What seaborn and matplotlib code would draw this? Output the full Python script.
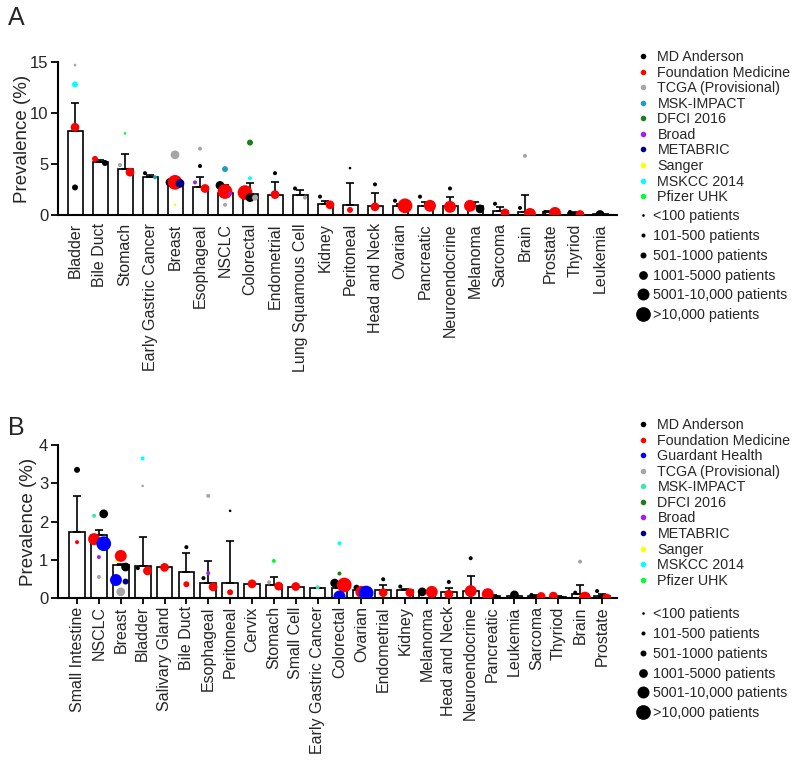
import numpy as np
import pandas as pd
import matplotlib
matplotlib.use('Agg')
import matplotlib.pyplot as plt
from matplotlib.lines import Line2D
import seaborn as sns

# --- data: panel A ---
A_cats = ['Bladder', 'Bile Duct', 'Stomach', 'Early Gastric Cancer', 'Breast', 'Esophageal', 'NSCLC',
          'Colorectal', 'Endometrial', 'Lung Squamous Cell', 'Kidney', 'Peritoneal', 'Head and Neck',
          'Ovarian', 'Pancreatic', 'Neuroendocrine', 'Melanoma', 'Sarcoma', 'Brain', 'Prostate',
          'Thyriod', 'Leukemia']
A_mean = [8.2, 5.2, 4.5, 3.7, 3.2, 2.7, 2.2, 2.1, 2.0, 2.0, 1.1, 1.0, 0.9, 0.9, 0.9, 0.9, 0.9,
          0.4, 0.3, 0.3, 0.2, 0.05]
A_upper = [11.0, 5.4, 6.0, 3.9, 3.3, 3.7, 2.9, 3.1, 3.2, 2.5, 1.4, 3.1, 2.2, 1.1, 1.3, 1.8, 1.3,
           0.8, 2.0, 0.4, 0.3, 0.1]

A_pt_cat = ['Bladder'] * 4 + ['Bile Duct'] * 2 + ['Stomach'] * 3 + ['Early Gastric Cancer'] * 2 + \
           ['Breast'] * 5 + ['Esophageal'] * 4 + ['NSCLC'] * 5 + ['Colorectal'] * 5 + ['Endometrial'] * 2 + \
           ['Lung Squamous Cell'] * 2 + ['Kidney'] * 2 + ['Peritoneal'] * 2 + ['Head and Neck'] * 2 + \
           ['Ovarian'] * 2 + ['Pancreatic'] * 2 + ['Neuroendocrine'] * 2 + ['Melanoma'] * 2 + \
           ['Sarcoma'] * 2 + ['Brain'] * 3 + ['Prostate'] * 2 + ['Thyriod'] * 2 + ['Leukemia']
A_pt_src = ['TCGA', 'MSKCC', 'FM', 'MDA',
            'FM', 'MDA',
            'PFZ', 'TCGA', 'FM',
            'MDA', 'MSK',
            'TCGA', 'SNG', 'MDA', 'FM', 'MB',
            'TCGA', 'MDA', 'BRD', 'FM',
            'MSK', 'MDA', 'FM', 'BRD', 'TCGA',
            'DFCI', 'MSKCC', 'FM', 'MDA', 'TCGA',
            'MDA', 'FM',
            'MDA', 'TCGA',
            'MDA', 'FM',
            'MDA', 'FM',
            'MDA', 'FM',
            'MDA', 'FM',
            'MDA', 'FM',
            'MDA', 'FM',
            'FM', 'MDA',
            'MDA', 'FM',
            'TCGA', 'MDA', 'FM',
            'MDA', 'FM',
            'MDA', 'FM',
            'MDA']
A_pt_val = [14.7, 12.8, 8.6, 2.7,
            5.5, 5.1,
            8.0, 4.9, 4.2,
            4.1, 3.7,
            5.9, 1.0, 3.2, 3.2, 3.1,
            6.5, 4.8, 3.2, 2.6,
            4.5, 2.9, 2.3, 2.1, 1.0,
            7.1, 3.6, 2.2, 1.7, 1.7,
            4.1, 2.0,
            2.6, 1.7,
            1.8, 1.0,
            4.6, 0.5,
            3.0, 0.8,
            1.4, 0.9,
            1.8, 0.9,
            2.6, 0.8,
            0.9, 0.6,
            1.1, 0.2,
            5.8, 0.7, 0.1,
            0.3, 0.2,
            0.3, 0.05,
            0.05]
# patient-count class: 0 <100, 1 101-500, 2 501-1000, 3 1001-5000, 4 5001-10000, 5 >10000
A_pt_cls = [0, 2, 3, 2,
            2, 2,
            0, 1, 3,
            1, 1,
            3, 0, 3, 5, 3,
            1, 1, 1, 3,
            2, 3, 5, 1, 1,
            2, 1, 5, 3, 2,
            1, 3,
            1, 1,
            1, 3,
            0, 2,
            1, 3,
            1, 5,
            1, 4,
            1, 4,
            4, 3,
            1, 3,
            1, 1, 4,
            1, 4,
            1, 3,
            3]

# --- data: panel B ---
B_cats = ['Small Intestine', 'NSCLC', 'Breast', 'Bladder', 'Salivary Gland', 'Bile Duct', 'Esophageal',
          'Peritoneal', 'Cervix', 'Stomach', 'Small Cell', 'Early Gastric Cancer', 'Colorectal', 'Ovarian',
          'Endometrial', 'Kidney', 'Melanoma', 'Head and Neck', 'Neuroendocrine', 'Pancreatic',
          'Leukemia', 'Sarcoma', 'Thyriod', 'Brain', 'Prostate']
B_mean = [1.73, 1.65, 0.86, 0.84, 0.8, 0.68, 0.4, 0.4, 0.36, 0.35, 0.3, 0.25, 0.26, 0.22, 0.2, 0.2,
          0.16, 0.15, 0.18, 0.06, 0.05, 0.06, 0.03, 0.1, 0.05]
B_upper = [2.67, 1.78, 0.9, 1.6, 0.8, 1.18, 0.96, 1.49, 0.36, 0.56, 0.3, 0.25, 0.3, 0.26, 0.34, 0.24,
           0.17, 0.26, 0.58, 0.08, 0.06, 0.08, 0.05, 0.33, 0.1]

B_pt_cat = ['Small Intestine'] * 2 + ['NSCLC'] * 6 + ['Breast'] * 6 + ['Bladder'] * 4 + ['Salivary Gland'] + \
           ['Bile Duct'] * 2 + ['Esophageal'] * 4 + ['Peritoneal'] * 2 + ['Cervix'] + ['Stomach'] * 3 + \
           ['Small Cell'] + ['Early Gastric Cancer'] + ['Colorectal'] * 5 + ['Ovarian'] * 3 + \
           ['Endometrial'] * 2 + ['Kidney'] * 2 + ['Melanoma'] * 2 + ['Head and Neck'] * 2 + \
           ['Neuroendocrine'] * 2 + ['Pancreatic'] * 2 + ['Leukemia'] + ['Sarcoma'] * 2 + \
           ['Thyriod'] * 2 + ['Brain'] * 3 + ['Prostate'] * 2
B_pt_src = ['MDA', 'FM',
            'MSK', 'MDA', 'FM', 'GH', 'BRD', 'TCGA',
            'SNG', 'GH', 'TCGA', 'FM', 'MDA', 'MB',
            'MSKCC', 'TCGA', 'MDA', 'FM',
            'FM',
            'MDA', 'FM',
            'TCGA', 'MDA', 'BRD', 'FM',
            'MDA', 'FM',
            'FM',
            'PFZ', 'TCGA', 'FM',
            'FM',
            'MSK',
            'MSKCC', 'DFCI', 'MDA', 'FM', 'GH',
            'MDA', 'FM', 'GH',
            'MDA', 'FM',
            'MDA', 'FM',
            'MDA', 'FM',
            'MDA', 'FM',
            'MDA', 'FM',
            'FM', 'MDA',
            'MDA',
            'MDA', 'FM',
            'FM', 'MDA',
            'TCGA', 'MDA', 'FM',
            'MDA', 'FM']
B_pt_val = [3.35, 1.46,
            2.15, 2.2, 1.54, 1.42, 1.07, 0.55,
            0.97, 0.47, 0.16, 1.1, 0.81, 0.43,
            3.65, 2.93, 0.78, 0.71,
            0.8,
            1.33, 0.36,
            2.67, 0.52, 0.65, 0.29,
            2.28, 0.15,
            0.37,
            0.97, 0.41, 0.31,
            0.3,
            0.28,
            1.43, 0.64, 0.39, 0.34, 0.04,
            0.27, 0.16, 0.13,
            0.49, 0.14,
            0.3, 0.14,
            0.16, 0.16,
            0.42, 0.1,
            1.04, 0.18,
            0.1, 0.02,
            0.08,
            0.08, 0.04,
            0.05, 0.0,
            0.95, 0.14, 0.01,
            0.18, 0.0]
B_pt_cls = [2, 1,
            1, 3, 4, 5, 1, 1,
            0, 4, 3, 4, 3, 2,
            1, 0, 1, 3,
            3,
            1, 2,
            1, 1, 1, 3,
            0, 2,
            3,
            1, 1, 3,
            3,
            1,
            1, 1, 3, 5, 4,
            2, 4, 5,
            1, 3,
            1, 3,
            3, 4,
            1, 3,
            1, 4,
            4, 1,
            3,
            1, 3,
            3, 1,
            1, 1, 4,
            1, 3]

# --- styling ---
SRC_NAMES = {'MDA': 'MD Anderson', 'FM': 'Foundation Medicine', 'GH': 'Guardant Health',
             'TCGA': 'TCGA (Provisional)', 'MSK': 'MSK-IMPACT', 'DFCI': 'DFCI 2016', 'BRD': 'Broad',
             'MB': 'METABRIC', 'SNG': 'Sanger', 'MSKCC': 'MSKCC 2014', 'PFZ': 'Pfizer UHK'}
BASE_COLORS = {'MDA': '#000000', 'FM': '#ff0000', 'GH': '#0000ff', 'TCGA': '#a6a6a6',
               'DFCI': '#1a7f1a', 'BRD': '#a020f0', 'MB': '#000080', 'SNG': '#ffff00',
               'MSKCC': '#00ffff', 'PFZ': '#00ff33'}
A_colors = dict(BASE_COLORS, MSK='#1f9dbf')
B_colors = dict(BASE_COLORS, MSK='#3de8b0')
A_legend_src = ['MDA', 'FM', 'TCGA', 'MSK', 'DFCI', 'BRD', 'MB', 'SNG', 'MSKCC', 'PFZ']
B_legend_src = ['MDA', 'FM', 'GH', 'TCGA', 'MSK', 'DFCI', 'BRD', 'MB', 'SNG', 'MSKCC', 'PFZ']
SIZE_LABELS = ['<100 patients', '101-500 patients', '501-1000 patients', '1001-5000 patients',
               '5001-10,000 patients', '>10,000 patients']
SIZE_MS = [1.9, 2.9, 4.3, 6.3, 8.6, 10.6]   # marker diameter (pt)

sns.set_style('ticks')
plt.rcParams['font.family'] = ['Liberation Sans', 'DejaVu Sans']


def spread_offsets(cat_idx, vals, thr, width):
    """small horizontal offsets so points with close values in a category don't overlap"""
    off = np.zeros(len(vals))
    for c in np.unique(cat_idx):
        idx = np.where(cat_idx == c)[0]
        order = idx[np.argsort(vals[idx], kind='stable')]
        clusters, cur = [], [order[0]]
        for a, b in zip(order[:-1], order[1:]):
            if vals[b] - vals[a] < thr:
                cur.append(b)
            else:
                clusters.append(cur)
                cur = [b]
        clusters.append(cur)
        for cl in clusters:
            if len(cl) > 1:
                cl = sorted(cl)  # listing order = left to right
                off[cl] = np.linspace(-width, width, len(cl))
    return off


def draw_panel(ax, cats, mean, upper, pcat, psrc, pval, pcls, colors, bar_w, thr, spread_w, cap):
    bars = pd.DataFrame({'cat': cats, 'mean': mean, 'upper': upper})
    pts = pd.DataFrame({'cat': pcat, 'src': psrc, 'val': pval, 'cls': pcls})
    pts['ci'] = pts['cat'].map({c: i for i, c in enumerate(cats)})
    pts['x'] = pts['ci'] + spread_offsets(pts['ci'].to_numpy(), pts['val'].to_numpy(), thr, spread_w)

    sns.barplot(data=bars, x='cat', y='mean', order=cats, color='white', edgecolor='black',
                linewidth=1.2, width=bar_w, errorbar=None, ax=ax, zorder=1)
    xs = np.arange(len(cats))
    ax.errorbar(xs, bars['mean'], yerr=[np.zeros(len(cats)), bars['upper'] - bars['mean']],
                fmt='none', ecolor='black', elinewidth=1.2, capsize=cap, capthick=1.2, zorder=2)
    sns.scatterplot(data=pts, x='x', y='val', hue='src', palette=colors, size='cls',
                    sizes={k: SIZE_MS[k] ** 2 for k in range(6)}, linewidth=0, legend=False,
                    ax=ax, zorder=3)

    ax.set_xticks(xs)
    ax.set_xticklabels(cats, rotation=90, fontsize=11.5)
    ax.set_xlabel('')
    ax.set_ylabel('Prevalence (%)', fontsize=13.5)
    for s in ['top', 'right']:
        ax.spines[s].set_visible(False)
    for s in ['left', 'bottom']:
        ax.spines[s].set_linewidth(1.5)
        ax.spines[s].set_color('black')
    ax.tick_params(axis='y', labelsize=12, width=1.3, length=5, color='black', pad=2)


def add_legends(fig, src_list, colors, x0, y_color, y_size):
    h1 = [Line2D([], [], marker='o', ls='', color=colors[s], markersize=4, markeredgewidth=0,
                 label=SRC_NAMES[s]) for s in src_list]
    fig.legend(handles=h1, loc='upper left', bbox_to_anchor=(x0, y_color), frameon=False,
               fontsize=10.3, handlelength=1.0, handletextpad=0.5, labelspacing=0.11,
               borderpad=0, borderaxespad=0)
    h2 = [Line2D([], [], marker='o', ls='', color='black', markersize=ms, markeredgewidth=0,
                 label=lab) for ms, lab in zip(SIZE_MS, SIZE_LABELS)]
    fig.legend(handles=h2, loc='upper left', bbox_to_anchor=(x0, y_size), frameon=False,
               fontsize=10.3, handlelength=1.0, handletextpad=0.2, labelspacing=0.41,
               borderpad=0, borderaxespad=0)


W, H = 800, 766
fig = plt.figure(figsize=(W / 100, H / 100), dpi=100)
axA = fig.add_axes([58 / W, 1 - 215 / H, 559 / W, 153 / H])
axB = fig.add_axes([58 / W, 1 - 598 / H, 559 / W, 153 / H])

draw_panel(axA, A_cats, A_mean, A_upper, A_pt_cat, A_pt_src, A_pt_val, A_pt_cls, A_colors,
           bar_w=0.6, thr=1.0, spread_w=0.2, cap=2.6)
axA.set_xlim(-0.68, 21.68)
axA.set_ylim(0, 15)
axA.set_yticks([0, 5, 10, 15])
axA.tick_params(axis='x', length=0, pad=6)
axA.yaxis.set_label_coords(-0.048, 0.5)

draw_panel(axB, B_cats, B_mean, B_upper, B_pt_cat, B_pt_src, B_pt_val, B_pt_cls, B_colors,
           bar_w=0.72, thr=0.25, spread_w=0.22, cap=3.0)
axB.set_xlim(-0.87, 24.69)
axB.set_ylim(0, 4)
axB.set_yticks([0, 1, 2, 3, 4])
axB.tick_params(axis='x', length=4, width=1.3, pad=2, color='black')
axB.yaxis.set_label_coords(-0.037, 0.5)

add_legends(fig, A_legend_src, A_colors, 636 / W, 1 - 50 / H, 1 - 209 / H)
add_legends(fig, B_legend_src, B_colors, 636 / W, 1 - 418 / H, 1 - 607 / H)

fig.text(8 / W, 1 - 6 / H, 'A', fontsize=18, va='top', ha='left')
fig.text(8 / W, 1 - 416 / H, 'B', fontsize=18, va='top', ha='left')

fig.savefig('out.png', dpi=100)
